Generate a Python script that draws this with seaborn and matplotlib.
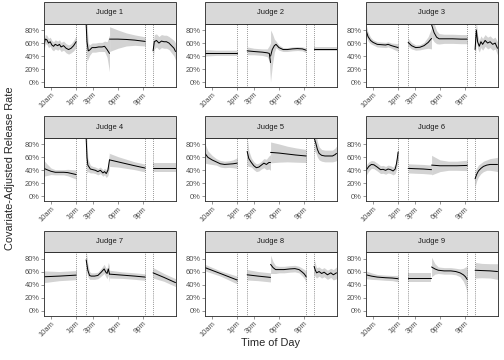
import numpy as np
import pandas as pd
import seaborn as sns
import matplotlib.pyplot as plt
from matplotlib.patches import Rectangle
from matplotlib.ticker import PercentFormatter

# ---------------- GLOBAL STYLE ----------------
sns.set_theme(style="ticks")
plt.rcParams["font.family"] = ["Liberation Sans", "DejaVu Sans"]

# ---------------- DATA ----------------
# hour of day (decimal), adjusted release rate, half width of the ribbon
SESSION_STARTS = [9.16, 14.2, 17.0, 22.2]
BREAKS = [13.0, 14.2, 21.25, 22.2]
TICK_HOURS = [10, 13, 15, 18, 21]
TICK_LABELS = ["10am", "1pm", "3pm", "6pm", "9pm"]
Y_TICKS = [0, 0.2, 0.4, 0.6, 0.8]

h1 = [9.16, 9.3, 9.5, 9.7, 9.9, 10.1, 10.3, 10.5, 10.8, 11.0, 11.2, 11.5, 11.8, 12.1, 12.4, 12.7, 13.0,
      14.2, 14.3, 14.45, 14.6, 14.9, 15.3, 15.7, 16.1, 16.4, 16.7, 16.99,
      17.0, 18.0, 19.0, 20.0, 21.25,
      22.2, 22.35, 22.6, 22.9, 23.2, 23.5, 23.8, 24.1, 24.4, 24.7, 24.88]
r1 = [.55, .66, .65, .60, .62, .57, .55, .58, .56, .58, .54, .56, .52, .50, .52, .56, .62,
      .88, .62, .48, .49, .53, .53, .54, .54, .55, .50, .44,
      .66, .66, .655, .645, .625,
      .48, .62, .64, .60, .63, .62, .62, .60, .56, .52, .47]
w1 = [.08, .07, .07, .07, .07, .07, .07, .07, .07, .07, .07, .07, .07, .07, .07, .08, .09,
      .45, .30, .12, .08, .07, .07, .07, .07, .08, .12, .28,
      .19, .14, .10, .08, .07,
      .13, .11, .10, .10, .10, .10, .10, .10, .11, .12, .13]

h2 = [9.16, 10.5, 12.0, 13.0,
      14.2, 15.0, 16.0, 16.6, 16.85, 16.99,
      17.0, 17.2, 17.45, 17.65, 18.0, 18.5, 19.0, 19.6, 20.2, 20.8, 21.25,
      22.2, 23.5, 24.88]
r2 = [.45, .45, .45, .45,
      .48, .47, .46, .45, .44, .30,
      .40, .50, .56, .58, .53, .50, .50, .51, .515, .51, .49,
      .505, .505, .505]
w2 = [.05, .04, .04, .04,
      .06, .05, .05, .06, .12, .30,
      .40, .25, .10, .05, .04, .03, .03, .03, .03, .03, .04,
      .03, .03, .03]

h3 = [9.16, 9.4, 9.7, 10.0, 10.5, 11.0, 11.5, 11.8, 12.2, 12.6, 13.0,
      14.2, 14.6, 15.1, 15.6, 16.1, 16.6, 16.99,
      17.0, 17.3, 17.6, 17.9, 18.5, 19.5, 20.5, 21.25,
      22.2, 22.35, 22.5, 22.7, 22.9, 23.1, 23.4, 23.7, 24.0, 24.3, 24.6, 24.88]
r3 = [.80, .70, .64, .61, .58, .575, .57, .58, .56, .545, .53,
      .61, .56, .53, .535, .56, .61, .67,
      .88, .76, .69, .665, .665, .665, .66, .66,
      .50, .80, .62, .55, .62, .58, .64, .60, .62, .58, .60, .52]
w3 = [.09, .07, .05, .04, .04, .04, .04, .04, .04, .05, .06,
      .06, .05, .04, .04, .05, .09, .16,
      .20, .14, .10, .08, .07, .07, .07, .07,
      .20, .15, .10, .09, .09, .09, .09, .09, .09, .09, .09, .10]

h4 = [9.16, 9.5, 10.0, 10.5, 11.0, 11.5, 12.0, 12.5, 13.0,
      14.2, 14.3, 14.4, 14.7, 15.0, 15.3, 15.6, 15.9, 16.2, 16.4, 16.6, 16.8, 16.99,
      17.0, 18.0, 19.0, 20.0, 21.25,
      22.2, 23.5, 24.88]
r4 = [.43, .41, .385, .37, .37, .37, .365, .35, .335,
      .89, .60, .48, .42, .41, .40, .38, .40, .36, .38, .35, .40, .56,
      .56, .53, .50, .47, .435,
      .44, .44, .44]
w4 = [.12, .09, .05, .04, .04, .04, .05, .06, .07,
      .45, .25, .10, .06, .05, .05, .05, .05, .05, .05, .06, .08, .12,
      .10, .08, .07, .06, .06,
      .07, .07, .07]

h5 = [9.16, 9.5, 10.0, 10.5, 11.0, 11.5, 12.0, 12.5, 13.0,
      14.2, 14.4, 14.7, 15.0, 15.3, 15.6, 15.9, 16.2, 16.5, 16.8, 16.99,
      17.0, 18.0, 19.0, 20.0, 21.25,
      22.2, 22.4, 22.6, 22.8, 23.1, 23.5, 24.0, 24.4, 24.7, 24.88]
r5 = [.66, .60, .56, .53, .50, .49, .495, .50, .51,
      .69, .58, .52, .47, .44, .45, .48, .51, .49, .52, .52,
      .675, .665, .65, .635, .62,
      .90, .82, .72, .66, .63, .62, .62, .62, .64, .66]
w5 = [.15, .10, .07, .05, .05, .05, .05, .06, .08,
      .22, .12, .07, .06, .06, .06, .06, .07, .08, .10, .12,
      .16, .14, .12, .11, .10,
      .20, .15, .12, .10, .09, .09, .09, .09, .10, .11]

h6 = [9.16, 9.5, 9.8, 10.1, 10.5, 10.9, 11.2, 11.5, 11.8, 12.1, 12.4, 12.65, 12.8, 12.9, 13.0,
      14.2, 15.0, 16.0, 16.99,
      17.0, 17.5, 18.0, 19.0, 20.0, 21.25,
      22.2, 22.4, 22.6, 22.9, 23.2, 23.6, 24.0, 24.5, 24.88]
r6 = [.40, .46, .49, .485, .45, .41, .415, .40, .42, .41, .39, .42, .50, .58, .68,
      .43, .425, .42, .41,
      .48, .475, .47, .47, .47, .475,
      .27, .34, .39, .43, .46, .48, .49, .49, .49]
w6 = [.08, .07, .06, .06, .06, .06, .06, .06, .06, .06, .06, .07, .09, .10, .12,
      .07, .07, .07, .07,
      .15, .12, .09, .07, .07, .08,
      .12, .10, .09, .08, .08, .08, .09, .10, .11]

h7 = [9.16, 11.0, 13.0,
      14.2, 14.4, 14.6, 14.8, 15.2, 15.6, 16.0, 16.35, 16.55, 16.7, 16.85, 16.99,
      17.0, 18.5, 20.0, 21.25,
      22.2, 23.5, 24.88]
r7 = [.52, .53, .545,
      .78, .62, .54, .53, .53, .54, .59, .64, .59, .57, .64, .56,
      .56, .545, .53, .515,
      .58, .51, .43]
w7 = [.09, .07, .07,
      .15, .10, .06, .05, .05, .05, .06, .07, .07, .08, .10, .12,
      .06, .05, .05, .05,
      .08, .06, .06]

h8 = [9.16, 11.0, 13.0,
      14.2, 15.5, 16.99,
      17.0, 17.3, 17.6, 18.0, 18.6, 19.3, 19.9, 20.4, 20.8, 21.05, 21.25,
      22.2, 22.35, 22.5, 22.8, 23.1, 23.4, 23.8, 24.2, 24.5, 24.88]
r8 = [.66, .57, .47,
      .55, .53, .51,
      .71, .66, .63, .63, .63, .64, .645, .63, .59, .56, .52,
      .68, .62, .58, .60, .57, .59, .55, .58, .55, .58]
w8 = [.05, .04, .06,
      .08, .07, .07,
      .14, .09, .06, .05, .05, .05, .05, .05, .06, .07, .09,
      .12, .10, .08, .07, .07, .07, .07, .07, .08, .09]

h9 = [9.16, 9.8, 10.5, 11.5, 12.3, 13.0,
      14.2, 16.99,
      17.0, 17.4, 17.8, 18.5, 19.3, 19.9, 20.4, 20.8, 21.05, 21.25,
      22.2, 23.0, 24.0, 24.88]
r9 = [.55, .53, .515, .505, .50, .49,
      .505, .505,
      .67, .64, .62, .61, .61, .60, .58, .55, .52, .48,
      .62, .615, .61, .60]
w9 = [.06, .05, .04, .04, .04, .05,
      .07, .07,
      .15, .08, .05, .05, .05, .05, .06, .10, .15, .20,
      .12, .11, .11, .12]

judges = [f"Judge {i}" for i in range(1, 10)]
all_hours = [h1, h2, h3, h4, h5, h6, h7, h8, h9]
all_rates = [r1, r2, r3, r4, r5, r6, r7, r8, r9]
all_halves = [w1, w2, w3, w4, w5, w6, w7, w8, w9]

frames = []
for name, h, r, w in zip(judges, all_hours, all_rates, all_halves):
    frames.append(pd.DataFrame({"judge": name, "hour": h, "rate": r, "half": w}))
df = pd.concat(frames, ignore_index=True)
df["segment"] = np.digitize(df["hour"], SESSION_STARTS)
df["lo"] = df["rate"] - df["half"]
df["hi"] = df["rate"] + df["half"]

# ---------------- PLOT ----------------
g = sns.FacetGrid(df, col="judge", col_wrap=3, sharex=False, sharey=False,
                  despine=False, height=2, aspect=1.4)
fig = g.figure
fig.set_size_inches(7, 5)
fig.subplots_adjust(left=44 / 504, right=497.5 / 504,
                    bottom=1 - 315.5 / 360, top=1 - 23.5 / 360,
                    wspace=29.5 / 131.5, hspace=50.75 / 63.5)

strip_h = 21.5 / 63.5
for name, ax in g.axes_dict.items():
    sub = df[df["judge"] == name]
    for seg, part in sub.groupby("segment"):
        ax.fill_between(part["hour"], part["lo"], part["hi"], color="#D3D3D3", lw=0)
    sns.lineplot(data=sub, x="hour", y="rate", units="segment", estimator=None,
                 color="black", linewidth=1.0, ax=ax)
    for b in BREAKS:
        ax.axvline(b, color="black", ls=(0, (1, 2.2)), lw=0.6)

    ax.set_xlim(9.16, 24.88)
    ax.set_ylim(-0.075, 0.9)
    ax.set_xticks(TICK_HOURS)
    ax.set_xticklabels(TICK_LABELS, rotation=45, ha="right", rotation_mode="anchor")
    ax.set_yticks(Y_TICKS)
    ax.yaxis.set_major_formatter(PercentFormatter(1.0, decimals=0))
    ax.tick_params(length=2.75, width=0.5, color="#333333", labelsize=7.5,
                   labelcolor="#4D4D4D", pad=1.5)
    ax.set(xlabel="", ylabel="", title="")
    for sp in ax.spines.values():
        sp.set_color("#333333")
        sp.set_linewidth(0.9)

    # strip header
    ax.add_patch(Rectangle((0, 1), 1, strip_h, transform=ax.transAxes, clip_on=False,
                           facecolor="#D9D9D9", edgecolor="#333333", lw=0.9))
    ax.text(0.5, 1 + strip_h / 2, name, transform=ax.transAxes, ha="center",
            va="center", fontsize=7.5, color="#1A1A1A")

fig.text(270.75 / 504, 1 - 343 / 360, "Time of Day", ha="center", va="center", fontsize=11)
fig.text(10 / 504, 1 - 168 / 360, "Covariate-Adjusted Release Rate", ha="center",
         va="center", rotation=90, fontsize=11)

fig.savefig("out.png", dpi=72)
